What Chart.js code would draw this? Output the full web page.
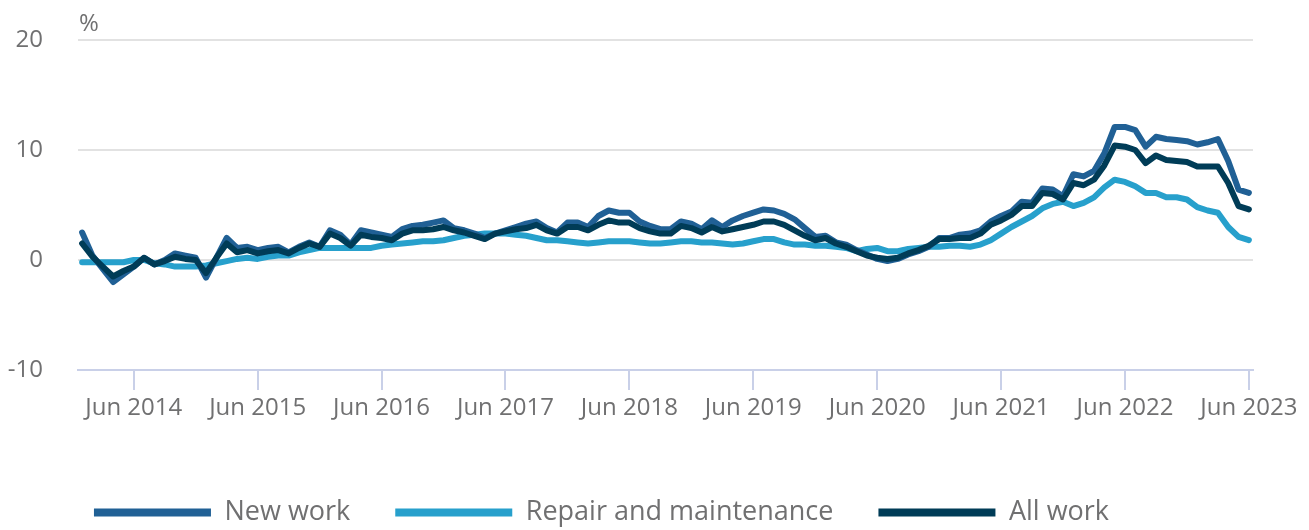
<!DOCTYPE html>
<html>
<head>
<meta charset="utf-8">
<script src="https://cdn.jsdelivr.net/npm/chart.js@4/dist/chart.umd.min.js"></script>
<style>
html,body{margin:0;padding:0;background:#fff;}
#wrap{width:1309px;height:530px;position:relative;}
</style>
</head>
<body>
<div id="wrap"><canvas id="c" width="1309" height="530"></canvas></div>
<script>
const MONTHS = ['Jan','Feb','Mar','Apr','May','Jun','Jul','Aug','Sep','Oct','Nov','Dec'];
const labels = [];
for (let y = 2014; y <= 2023; y++) {
  for (let m = 0; m < 12; m++) {
    if (y === 2023 && m > 5) break;
    labels.push(MONTHS[m] + ' ' + y);
  }
}

const newWork = [
  2.5, 0.4, -0.8, -2.0, -1.3, -0.6, 0.2, -0.4, 0.0, 0.6, 0.4, 0.2,
  -1.6, 0.2, 2.0, 1.1, 1.2, 0.9, 1.1, 1.2, 0.7, 1.2, 1.6, 1.2,
  2.7, 2.3, 1.4, 2.7, 2.5, 2.3, 2.1, 2.8, 3.1, 3.2, 3.4, 3.6,
  2.9, 2.7, 2.4, 2.0, 2.4, 2.7, 3.0, 3.3, 3.5, 2.9, 2.5, 3.4,
  3.4, 3.0, 4.0, 4.5, 4.3, 4.3, 3.5, 3.1, 2.8, 2.8, 3.5, 3.3,
  2.8, 3.6, 3.0, 3.6, 4.0, 4.3, 4.6, 4.5, 4.2, 3.7, 2.9, 2.1,
  2.2, 1.6, 1.4, 0.9, 0.5, 0.1, -0.1, 0.1, 0.5, 0.8, 1.2, 2.0,
  2.0, 2.3, 2.4, 2.7, 3.5, 4.0, 4.4, 5.3, 5.2, 6.5, 6.4, 5.8,
  7.8, 7.6, 8.1, 9.7, 12.1, 12.1, 11.8, 10.3, 11.2, 11.0, 10.9, 10.8,
  10.5, 10.7, 11.0, 9.0, 6.4, 6.1
];

const repair = [
  -0.2, -0.2, -0.2, -0.2, -0.2, 0.0, 0.0, -0.3, -0.4, -0.6, -0.6, -0.6,
  -0.5, -0.3, -0.1, 0.1, 0.2, 0.1, 0.3, 0.4, 0.4, 0.7, 0.9, 1.1,
  1.1, 1.1, 1.1, 1.1, 1.1, 1.3, 1.4, 1.5, 1.6, 1.7, 1.7, 1.8,
  2.0, 2.2, 2.3, 2.4, 2.4, 2.4, 2.3, 2.2, 2.0, 1.8, 1.8, 1.7,
  1.6, 1.5, 1.6, 1.7, 1.7, 1.7, 1.6, 1.5, 1.5, 1.6, 1.7, 1.7,
  1.6, 1.6, 1.5, 1.4, 1.5, 1.7, 1.9, 1.9, 1.6, 1.4, 1.4, 1.3,
  1.3, 1.2, 1.1, 0.8, 1.0, 1.1, 0.8, 0.8, 1.0, 1.1, 1.2, 1.2,
  1.3, 1.3, 1.2, 1.4, 1.8, 2.4, 3.0, 3.5, 4.0, 4.7, 5.1, 5.3,
  4.9, 5.2, 5.7, 6.6, 7.3, 7.1, 6.7, 6.1, 6.1, 5.7, 5.7, 5.5,
  4.8, 4.5, 4.3, 3.0, 2.1, 1.8
];

const allWork = [
  1.5, 0.3, -0.6, -1.5, -1.0, -0.6, 0.2, -0.4, -0.1, 0.3, 0.1, 0.0,
  -1.2, 0.2, 1.5, 0.7, 0.9, 0.6, 0.8, 0.9, 0.6, 1.1, 1.5, 1.2,
  2.4, 2.0, 1.3, 2.3, 2.1, 2.0, 1.8, 2.4, 2.7, 2.7, 2.8, 3.0,
  2.7, 2.5, 2.2, 1.9, 2.4, 2.6, 2.8, 2.9, 3.2, 2.7, 2.4, 3.0,
  3.0, 2.7, 3.2, 3.6, 3.4, 3.4, 2.9, 2.6, 2.4, 2.4, 3.1, 2.9,
  2.5, 3.0, 2.6, 2.8, 3.0, 3.2, 3.5, 3.5, 3.2, 2.7, 2.2, 1.8,
  2.0, 1.5, 1.2, 0.8, 0.4, 0.2, 0.1, 0.2, 0.6, 0.9, 1.3, 1.9,
  1.9, 2.0, 2.0, 2.4, 3.2, 3.6, 4.1, 4.9, 4.9, 6.1, 6.0, 5.5,
  7.0, 6.8, 7.3, 8.6, 10.4, 10.3, 10.0, 8.8, 9.5, 9.1, 9.0, 8.9,
  8.5, 8.5, 8.5, 7.0, 4.9, 4.6
];

const seriesNames = ['New work', 'Repair and maintenance', 'All work'];
const yTicks = [-10, 0, 10, 20];
const unitLabel = '%';

const FONT = "'Open Sans', 'Noto Sans', sans-serif";
const TEXT = '#707071';
const AXIS = '#c9d0e8';
const PLOT_BOTTOM = 370;

const toXY = arr => arr.map((v, i) => ({x: i, y: v}));
const juneIdx = labels.map((l, i) => l.startsWith('Jun') ? i : -1).filter(i => i >= 0);

const unitPlugin = {
  id: 'unit',
  afterLayout(chart) {
    const lg = chart.legend;
    if (lg) {
      lg.left -= 25; lg.right -= 25;
      lg.top += 6; lg.bottom += 6;
    }
  },
  afterDraw(chart) {
    const ctx = chart.ctx;
    ctx.save();
    ctx.font = '24px ' + FONT;
    ctx.fillStyle = TEXT;
    ctx.textBaseline = 'middle';
    ctx.textAlign = 'left';
    ctx.fillText(unitLabel, chart.chartArea.left + 1, 24);
    ctx.restore();
  }
};

const lineStyle = {
  borderWidth: 6,
  pointRadius: 0,
  pointHoverRadius: 0,
  tension: 0,
  borderCapStyle: 'round',
  borderJoinStyle: 'round',
  fill: false
};

new Chart(document.getElementById('c'), {
  type: 'line',
  data: {
    labels: labels,
    datasets: [
      Object.assign({label: seriesNames[0], data: toXY(newWork), borderColor: '#206095', backgroundColor: '#206095', order: 1}, lineStyle),
      Object.assign({label: seriesNames[1], data: toXY(repair), borderColor: '#27a0cc', backgroundColor: '#27a0cc', order: 2}, lineStyle),
      Object.assign({label: seriesNames[2], data: toXY(allWork), borderColor: '#003c57', backgroundColor: '#003c57', order: 0}, lineStyle)
    ]
  },
  options: {
    responsive: false,
    animation: false,
    layout: {padding: {top: 40, right: 56, left: 0, bottom: 0}},
    plugins: {
      tooltip: {enabled: false},
      legend: {
        position: 'bottom',
        labels: {
          font: {family: FONT, size: 27},
          color: TEXT,
          boxWidth: 117,
          boxHeight: 8,
          padding: 45,
          sort: (a, b) => a.datasetIndex - b.datasetIndex,
          generateLabels: (chart) => Chart.defaults.plugins.legend.labels.generateLabels(chart).map(l => Object.assign(l, {fillStyle: l.strokeStyle, lineWidth: 0}))
        }
      }
    },
    scales: {
      x: {
        type: 'linear',
        min: -0.4,
        max: labels.length - 1 + 0.4,
        afterBuildTicks: (axis) => { axis.ticks = juneIdx.map(v => ({value: v})); },
        afterFit: (axis) => { axis.height = axis.chart.height - PLOT_BOTTOM - axis.chart.legend.height; },
        ticks: {
          autoSkip: false,
          maxRotation: 0,
          padding: 4,
          font: {family: FONT, size: 24},
          color: TEXT,
          callback: (v) => labels[v]
        },
        grid: {drawOnChartArea: false, drawTicks: true, tickLength: 20, color: AXIS, lineWidth: 2},
        border: {display: true, color: AXIS, width: 2}
      },
      y: {
        min: -10,
        max: 20,
        afterBuildTicks: (axis) => { axis.ticks = yTicks.map(v => ({value: v})); },
        afterFit: (axis) => { axis.width = 78; axis.paddingTop = 0; axis.paddingBottom = 0; },
        ticks: {
          padding: 35,
          font: {family: FONT, size: 24},
          color: TEXT
        },
        grid: {color: '#e2e2e2', lineWidth: 2, drawTicks: false},
        border: {display: false}
      }
    }
  },
  plugins: [unitPlugin]
});
</script>
</body>
</html>
